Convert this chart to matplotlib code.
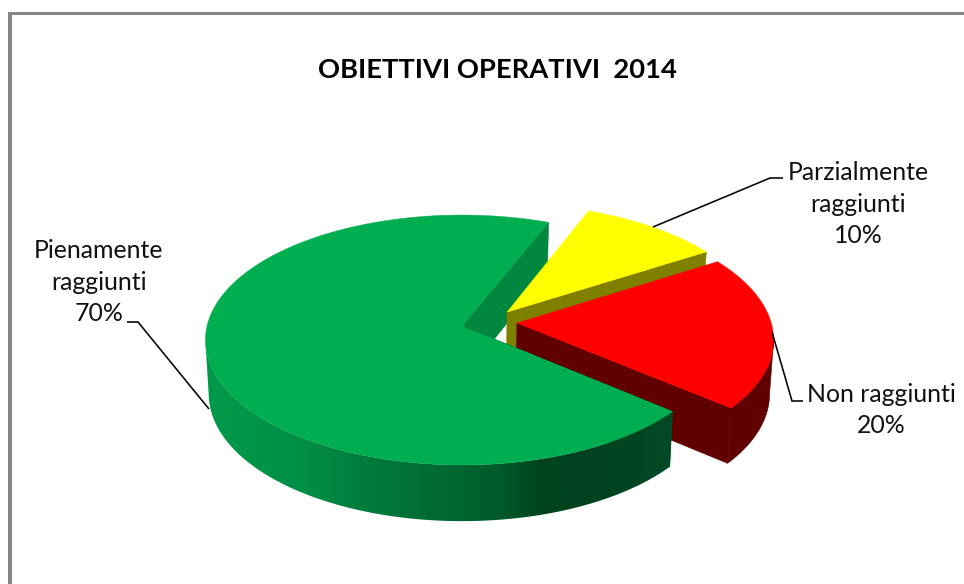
import numpy as np
import matplotlib
matplotlib.use('Agg')
import matplotlib.pyplot as plt
from matplotlib.colors import to_rgb
from matplotlib.patches import Polygon, Rectangle

plt.rcParams['font.family'] = ['Lato', 'DejaVu Sans']

title = 'OBIETTIVI OPERATIVI  2014'
categories = ['Pienamente\nraggiunti', 'Non raggiunti', 'Parzialmente\nraggiunti']
values = [70, 20, 10]
top_colors = ['#00ae50', '#ff0000', '#ffff00']
wall_colors = ['#00873f', '#600000', '#808000']
# exploded slices are moved inside the pie plane
shifts = [(0.0, 0.0), (0.216, 0.024), (0.179, 0.114)]

start_angle = 68.0

# projection of the tilted pie onto the page
CX, CY = 462.0, 326.0
RX, RY = 255.0, 123.4
PERSP = 0.112
SCALE_X = 0.987
SCALE_Y = 0.973
DROP = 53.5

# shading along the front wall of the big slice
grad_x = [205, 300, 400, 460, 510, 540, 600, 670]
grad_c = ['#009a4b', '#008f45', '#007238', '#006630', '#005528', '#00441f', '#00421f', '#004a25']


def project(u, v, bottom=False):
    u = np.asarray(u, dtype=float)
    v = np.asarray(v, dtype=float)
    d = 1 + PERSP * v
    x = RX * u / d
    y = -RY * v / d
    if bottom:
        return CX + SCALE_X * x, CY + SCALE_Y * y + DROP * (1 - 0.12 * v)
    return CX + x, CY + y


def arc(a0, a1, shift, n=200):
    t = np.radians(np.linspace(a0, a1, n))
    return np.cos(t) + shift[0], np.sin(t) + shift[1]


def xy(px, py):
    return np.column_stack([px, py])


def side_outline(u, v):
    top = xy(*project(u, v))
    low = xy(*project(u, v, bottom=True))
    return np.vstack([top, low[::-1]])


def side_face(ax, u, v, color, z):
    ax.add_patch(Polygon(side_outline(u, v), closed=True, fc=color, ec=color, lw=0.4, zorder=z))


def top_face(ax, u, v, s, color, z):
    ax.add_patch(Polygon(xy(*project(np.r_[s[0], u], np.r_[s[1], v])), closed=True,
                         fc=color, ec=color, lw=0.3, zorder=z))


def shaded_wall(ax, u, v, z):
    clip = Polygon(side_outline(u, v), closed=True, transform=ax.transData)
    xs = np.arange(200, 680)
    rgb = np.array([to_rgb(c) for c in grad_c])
    strip = np.column_stack([np.interp(xs, grad_x, rgb[:, i]) for i in range(3)])[np.newaxis, :, :]
    im = ax.imshow(strip, extent=(200, 680, 530, 300), aspect='auto', zorder=z, interpolation='bilinear')
    im.set_clip_path(clip)


fig = plt.figure(figsize=(9.64, 5.84), dpi=100)
ax = fig.add_axes([0, 0, 1, 1])

# chart frame, only the top and left edges are on the page
ax.add_patch(Rectangle((8, 12), 956, 2.6, fc='#868686', ec='none', zorder=1))
ax.add_patch(Rectangle((8, 12), 4, 572, fc='#868686', ec='none', zorder=1))

# slice limits from the percentages
total = float(sum(values))
edges = start_angle + np.cumsum([0] + values) * 360.0 / total

slices = []
for i in range(len(values)):
    u, v = arc(edges[i], edges[i + 1], shifts[i])
    slices.append((u, v, shifts[i]))

# green slice, cut face at the back
u, v, s = slices[0]
side_face(ax, [u[0], s[0]], [v[0], s[1]], wall_colors[0], 2)

# yellow slice
u, v, s = slices[2]
side_face(ax, [s[0], u[0]], [s[1], v[0]], wall_colors[2], 3)
top_face(ax, u, v, s, top_colors[2], 4)

# red slice, outer wall stops at the rightmost point of the rim
u, v, s = slices[1]
side_face(ax, [u[0], s[0]], [v[0], s[1]], wall_colors[1], 5)
right = np.argmax(project(u, v)[0])
side_face(ax, u[:right + 1], v[:right + 1], wall_colors[1], 5)
top_face(ax, u, v, s, top_colors[1], 6)

# green slice, front wall starts at the leftmost point of the rim
u, v, s = slices[0]
side_face(ax, [u[-1], s[0]], [v[-1], s[1]], grad_c[-1], 6.5)
left = np.argmin(project(u, v)[0])
shaded_wall(ax, u[left:], v[left:], 7)
top_face(ax, u, v, s, top_colors[0], 8)

# leader lines
leader_kw = dict(color='black', lw=1.15, solid_capstyle='butt', solid_joinstyle='miter', zorder=9)
ax.plot([653, 770, 783], [227, 178, 178], **leader_kw)
ax.plot([772, 792, 803], [332, 401, 401], **leader_kw)
ax.plot([209, 138, 127], [409, 322, 322], **leader_kw)

ax.text(497.5, 70.5, title, ha='center', va='center', fontsize=19.7, fontweight='bold', color='black')

label_kw = dict(ha='center', va='center', fontsize=17.9, color='#111111', linespacing=1.47)
ax.text(99, 282, f'{categories[0]}\n{values[0]}%', **label_kw)
ax.text(881, 410, f'{categories[1]}\n{values[1]}%', **label_kw)
ax.text(858, 204, f'{categories[2]}\n{values[2]}%', **label_kw)

ax.set_xlim(0, 964)
ax.set_ylim(584, 0)
ax.axis('off')

fig.savefig('out.png', dpi=100, facecolor='white')
